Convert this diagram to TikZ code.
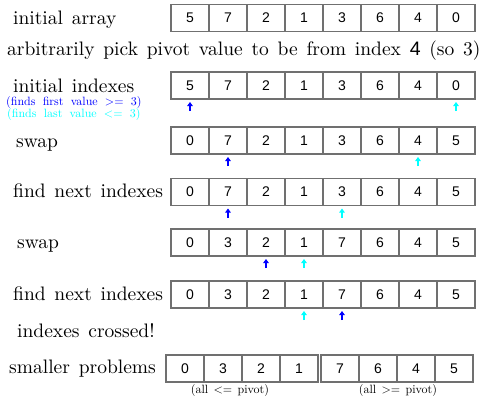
\documentclass[tikz,border=0pt]{standalone}
\usepackage{fontspec}
\setmainfont{lmroman10-regular.otf}
\newfontfamily\numfont{Liberation Sans}
\usetikzlibrary{arrows.meta}
\definecolor{cellgray}{HTML}{707070}
\definecolor{lowblue}{RGB}{0,0,255}
\definecolor{highcyan}{RGB}{0,255,255}
\newcommand{\bigtext}{\fontsize{19.5}{22}\selectfont\spaceskip 0.45em\relax}
\newcommand{\smalltext}{\fontsize{12}{13}\selectfont\spaceskip 0.6em\relax}
\newcommand{\subtext}{\fontsize{12}{14}\selectfont\spaceskip 0.45em\relax}

\tikzset{
    cell/.style={draw=cellgray, line width=1.3pt, minimum width=38pt, minimum height=27pt,
        inner sep=0pt, outer sep=0pt, font=\numfont\fontsize{14}{14}\selectfont},
    lbl/.style={anchor=base west, inner sep=0pt, font=\bigtext},
    note/.style={anchor=base west, inner sep=0pt, font=\smalltext},
    lo/.style={-{Triangle[length=4pt,width=5.5pt]}, line width=1.5pt, lowblue},
    hi/.style={lo, highcyan},
}

\begin{document}
\begin{tikzpicture}[x=1pt, y=-1pt]
    \useasboundingbox (0,0) rectangle (480,400);

    % labels on the left
    \node[lbl] (t1) at (13,24) {initial array};
    \node[lbl] (t2) at (7,55) {arbitrarily pick pivot value to be from index {\numfont 4} (so 3)};
    \node[lbl] (t3) at (13,92) {initial indexes};
    \node[note, text=lowblue] (n1) at (6,105.5) {(finds first value >= 3)};
    \node[note, text=highcyan] (n2) at (7,117) {(finds last value <= 3)};
    \node[lbl] (t4) at (16,147) {swap};
    \node[lbl] (t5) at (13,197) {find next indexes};
    \node[lbl] (t6) at (17,248) {swap};
    \node[lbl] (t7) at (13,300) {find next indexes};
    \node[lbl] (t8) at (17,337) {indexes crossed!};
    \node[lbl] (t9) at (9,373) {smaller problems};

    % the arrays
    \foreach \v [count=\i] in {5,7,2,1,3,6,4,0}
        \node[cell] (r1c\i) at (152+38*\i,18) {\v};
    \foreach \v [count=\i] in {5,7,2,1,3,6,4,0}
        \node[cell] (r2c\i) at (152+38*\i,85.5) {\v};
    \foreach \v [count=\i] in {0,7,2,1,3,6,4,5}
        \node[cell] (r3c\i) at (152+38*\i,140.5) {\v};
    \foreach \v [count=\i] in {0,7,2,1,3,6,4,5}
        \node[cell] (r4c\i) at (152+38*\i,192) {\v};
    \foreach \v [count=\i] in {0,3,2,1,7,6,4,5}
        \node[cell] (r5c\i) at (152+38*\i,242.5) {\v};
    \foreach \v [count=\i] in {0,3,2,1,7,6,4,5}
        \node[cell] (r6c\i) at (152+38*\i,294.5) {\v};
    \foreach \v [count=\i] in {0,3,2,1}
        \node[cell] (lc\i) at (147+38*\i,368.5) {\v};
    \foreach \v [count=\i] in {7,6,4,5}
        \node[cell] (rc\i) at (302+38*\i,368.5) {\v};

    \node[note, anchor=base, font=\subtext] (s1) at (230,393) {(all <= pivot)};
    \node[note, anchor=base, font=\subtext] (s2) at (398,393) {(all >= pivot)};

    % index pointers
    \draw[lo] ([yshift=-12pt]r2c1.south) -- ([yshift=-3pt]r2c1.south);
    \draw[hi] ([yshift=-12pt]r2c8.south) -- ([yshift=-3pt]r2c8.south);
    \draw[lo] ([yshift=-12pt]r3c2.south) -- ([yshift=-3pt]r3c2.south);
    \draw[hi] ([yshift=-12pt]r3c7.south) -- ([yshift=-3pt]r3c7.south);
    \draw[lo] ([yshift=-12pt]r4c2.south) -- ([yshift=-3pt]r4c2.south);
    \draw[hi] ([yshift=-12pt]r4c5.south) -- ([yshift=-3pt]r4c5.south);
    \draw[lo] ([yshift=-12pt]r5c3.south) -- ([yshift=-3pt]r5c3.south);
    \draw[hi] ([yshift=-12pt]r5c4.south) -- ([yshift=-3pt]r5c4.south);
    \draw[hi] ([yshift=-12pt]r6c4.south) -- ([yshift=-3pt]r6c4.south);
    \draw[lo] ([yshift=-12pt]r6c5.south) -- ([yshift=-3pt]r6c5.south);
\end{tikzpicture}
\end{document}
